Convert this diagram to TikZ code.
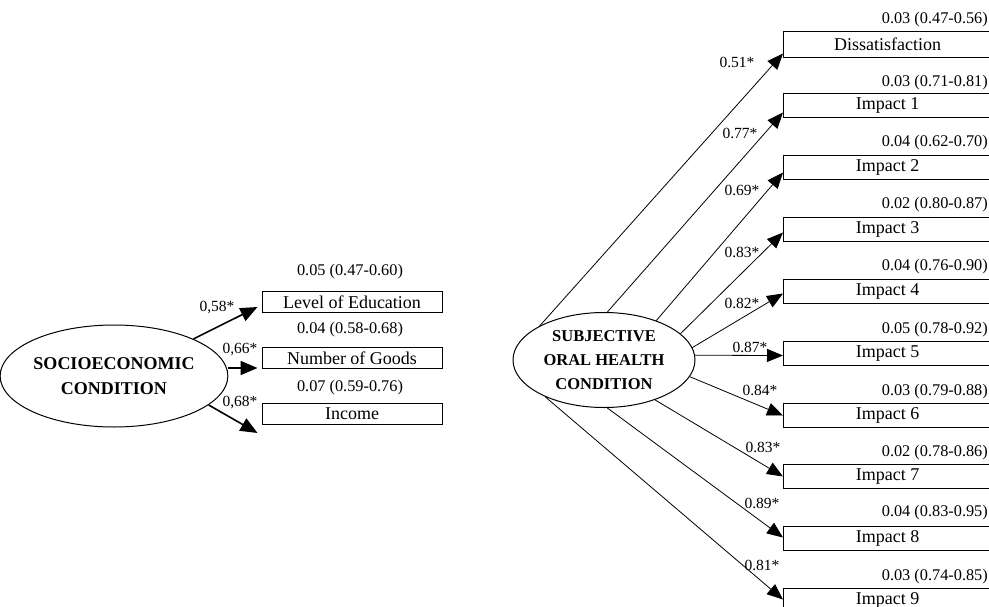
\documentclass[tikz,border=0pt]{standalone}
\usepackage{fontspec}
\setmainfont{Liberation Serif}
\usetikzlibrary{arrows.meta,shapes.geometric}
\begin{document}
\begin{tikzpicture}[x=1pt,y=-1pt,
 lbox/.style={draw,line width=1pt,rectangle,minimum width=180pt,minimum height=21pt,inner sep=0pt,font=\fontsize{18}{20}\selectfont},
 rbox/.style={draw,line width=1pt,rectangle,minimum width=208pt,minimum height=24pt,inner sep=0pt,anchor=north west,font=\fontsize{18}{20}\selectfont},
 errlab/.style={font=\fontsize{16.3}{18}\selectfont,inner sep=0pt},
 ldlab/.style={font=\fontsize{15.5}{17}\selectfont,inner sep=0pt},
 thickarr/.style={line width=1.6pt,-{Triangle[length=17pt,width=14pt]}},
 thinarr/.style={line width=0.8pt,-{Triangle[length=16pt,width=13pt]}},
 latent/.style={draw,ellipse,line width=1pt,inner sep=0pt,align=center}
]
\useasboundingbox (0,0) rectangle (989,606);
\clip (0,0) rectangle (989,606);

% ---------- left model ----------
\node[latent,minimum width=206pt,minimum height=102pt,font=\bfseries\fontsize{18}{25}\selectfont] (e1) at (114,376) {SOCIOECONOMIC\\CONDITION};

\node[lbox] (b1) at (352,302) {Level of Education};
\node[lbox] (b2) at (352,358) {Number of Goods};
\node[lbox] (b3) at (352,413.5) {Income};

\node[errlab] (l1) at (350,272) {0.05 (0.47-0.60)};
\node[errlab] (l2) at (350,330) {0.04 (0.58-0.68)};
\node[errlab] (l3) at (350,388) {0.07 (0.59-0.76)};

\coordinate (t1) at ([xshift=-4pt,yshift=-5pt]b1.west);
\coordinate (t2) at ([xshift=-4pt,yshift=-10pt]b2.west);
\coordinate (t3) at ([xshift=-4pt,yshift=-19.5pt]b3.west);
\draw[thickarr] (e1.25.7) -- (t1);
\draw[thickarr] (e1.east |- t2) -- (t2);
\draw[thickarr] (e1.-17) -- (t3);

\node[ldlab] (w1) at (217,308) {0,58*};
\node[ldlab] (w2) at (240,350) {0,66*};
\node[ldlab] (w3) at (240,403) {0,68*};

% ---------- right model ----------
\node[latent,minimum width=182pt,minimum height=95pt,font=\bfseries\fontsize{16.5}{24}\selectfont] (e2) at (604,360) {SUBJECTIVE\\ORAL HEALTH\\CONDITION};

\node[rbox,minimum height=26pt] (r0) at (783,31) {Dissatisfaction};
\node[rbox] (r1) at (783,93) {Impact 1};
\node[rbox] (r2) at (783,155) {Impact 2};
\node[rbox] (r3) at (783,217) {Impact 3};
\node[rbox] (r4) at (783,279) {Impact 4};
\node[rbox] (r5) at (783,341) {Impact 5};
\node[rbox] (r6) at (783,403) {Impact 6};
\node[rbox] (r7) at (783,464) {Impact 7};
\node[rbox] (r8) at (783,526) {Impact 8};
\node[rbox] (r9) at (783,588) {Impact 9};

\node[errlab,anchor=east] (q0) at (988,20) {0.03 (0.47-0.56)};
\node[errlab,anchor=east] (q1) at (988,83) {0.03 (0.71-0.81)};
\node[errlab,anchor=east] (q2) at (988,143) {0.04 (0.62-0.70)};
\node[errlab,anchor=east] (q3) at (988,205) {0.02 (0.80-0.87)};
\node[errlab,anchor=east] (q4) at (988,267) {0.04 (0.76-0.90)};
\node[errlab,anchor=east] (q5) at (988,330) {0.05 (0.78-0.92)};
\node[errlab,anchor=east] (q6) at (988,392) {0.03 (0.79-0.88)};
\node[errlab,anchor=east] (q7) at (988,453) {0.02 (0.78-0.86)};
\node[errlab,anchor=east] (q8) at (988,513) {0.04 (0.83-0.95)};
\node[errlab,anchor=east] (q9) at (988,577) {0.03 (0.74-0.85)};

\draw[thinarr] (e2.152) -- ([yshift=-9pt]r0.west);
\draw[thinarr] (e2.86) -- ([yshift=-7pt]r1.west);
\draw[thinarr] (e2.37) -- ([yshift=-5pt]r2.west);
\draw[thinarr] (e2.19.6) -- ([yshift=-3pt]r3.west);
\draw[thinarr] (e2.8.4) -- ([yshift=-2pt]r4.west);
\draw[thinarr] (e2.3) -- ([yshift=-2pt]r5.west);
\draw[thinarr] (e2.-11.6) -- (r6.west);
\draw[thinarr] (e2.-38) -- (r7.west);
\draw[thinarr] (e2.-86.5) -- ([yshift=1pt]r8.west);
\draw[thinarr] (e2.-148.8) -- ([yshift=1pt]r9.west);

\node[ldlab] (k0) at (737,62) {0.51*};
\node[ldlab] (k1) at (740,133) {0.77*};
\node[ldlab] (k2) at (742,190) {0.69*};
\node[ldlab] (k3) at (742,252) {0.83*};
\node[ldlab] (k4) at (742,303) {0.82*};
\node[ldlab] (k5) at (750,347) {0.87*};
\node[ldlab] (k6) at (760,390) {0.84*};
\node[ldlab] (k7) at (763,447) {0.83*};
\node[ldlab] (k8) at (762,503) {0.89*};
\node[ldlab] (k9) at (762,565) {0.81*};
\end{tikzpicture}
\end{document}
